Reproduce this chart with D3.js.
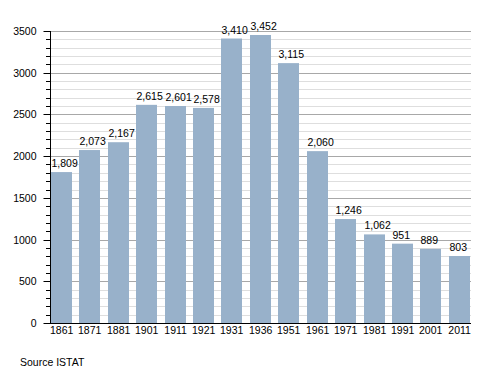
<!DOCTYPE html>
<html>
<head>
<meta charset="utf-8">
<script src="https://cdn.jsdelivr.net/npm/d3@7"></script>
<style>
  body { margin: 0; background: #fff; }
  svg text { font-family: "Liberation Sans", Arial, sans-serif; fill: #000; }
</style>
</head>
<body>
<div class="chart"></div>
<script>
// census years and population
const years = ['1861', '1871', '1881', '1901', '1911', '1921', '1931', '1936', '1951', '1961', '1971', '1981', '1991', '2001', '2011'];
const population = [1809, 2073, 2167, 2615, 2601, 2578, 3410, 3452, 3115, 2060, 1246, 1062, 951, 889, 803];
const yTicks = [0, 500, 1000, 1500, 2000, 2500, 3000, 3500];
const sourceText = 'Source ISTAT';

const data = years.map((y, i) => ({year: y, value: population[i]}));

const width = 500;
const height = 373;
const plotLeft = 50, plotRight = 471, plotTop = 31, plotBottom = 323;

const svg = d3.select('.chart')
    .append('svg')
    .attr('width', width)
    .attr('height', height);

const x = d3.scaleBand()
    .domain(years)
    .range([plotLeft, plotRight])
    .paddingInner(0.25)
    .paddingOuter(0.03);

const y = d3.scaleLinear()
    .domain([0, 3500])
    .range([plotBottom, plotTop]);

const py = v => Math.round(y(v)) + 0.5;

// minor gridlines every 100
const minor = d3.range(100, 3600, 100).filter(v => v % 500 != 0);
svg.append('g')
    .selectAll('line')
    .data(minor)
    .enter()
    .append('line')
    .attr('x1', plotLeft)
    .attr('x2', plotRight)
    .attr('y1', py)
    .attr('y2', py)
    .attr('stroke', '#dedede');

// major gridlines
svg.append('g')
    .selectAll('line')
    .data(yTicks.filter(d => d > 0))
    .enter()
    .append('line')
    .attr('x1', plotLeft)
    .attr('x2', plotRight)
    .attr('y1', py)
    .attr('y2', py)
    .attr('stroke', '#a8a8a8');

svg.selectAll('rect')
    .data(data)
    .enter()
    .append('rect')
    .attr('x', d => Math.round(x(d.year)))
    .attr('y', d => y(d.value))
    .attr('width', Math.round(x.bandwidth()))
    .attr('height', d => plotBottom - y(d.value))
    .attr('fill', '#98b1ca');

// value labels sit on the left edge of each bar
svg.selectAll('.val')
    .data(data)
    .enter()
    .append('text')
    .attr('class', 'val')
    .attr('x', d => Math.round(x(d.year)) + 0.5)
    .attr('y', d => y(d.value) - 5)
    .attr('font-size', 10.5)
    .text(d => d3.format(',')(d.value));

// minor ticks on y axis
svg.append('g')
    .selectAll('line')
    .data(minor)
    .enter()
    .append('line')
    .attr('x1', plotLeft - 4)
    .attr('x2', plotLeft)
    .attr('y1', py)
    .attr('y2', py)
    .attr('stroke', '#000');

const yAxis = svg.append('g')
    .attr('transform', `translate(${plotLeft + 0.5},0)`)
    .call(d3.axisLeft(y).tickValues(yTicks).tickSize(7).tickPadding(7).tickFormat(d3.format('d')));
yAxis.select('.domain').remove();
yAxis.selectAll('.tick').attr('transform', d => `translate(0,${py(d)})`);
yAxis.selectAll('text')
    .attr('font-size', 10.5)
    .attr('font-family', '"Liberation Sans", Arial, sans-serif');

svg.append('line')
    .attr('x1', plotLeft + 0.5).attr('x2', plotLeft + 0.5)
    .attr('y1', plotTop).attr('y2', plotBottom + 1)
    .attr('stroke', '#000');

// x axis
svg.append('line')
    .attr('x1', plotLeft).attr('x2', plotRight)
    .attr('y1', plotBottom + 0.5).attr('y2', plotBottom + 0.5)
    .attr('stroke', '#000');

svg.selectAll('.yr')
    .data(data)
    .enter()
    .append('text')
    .attr('class', 'yr')
    .attr('x', d => Math.round(x(d.year)) + x.bandwidth() / 2)
    .attr('y', 334)
    .attr('text-anchor', 'middle')
    .attr('font-size', 10.5)
    .text(d => d.year);

svg.append('text')
    .attr('x', 20)
    .attr('y', 366)
    .attr('font-size', 10.5)
    .text(sourceText);
</script>
</body>
</html>
